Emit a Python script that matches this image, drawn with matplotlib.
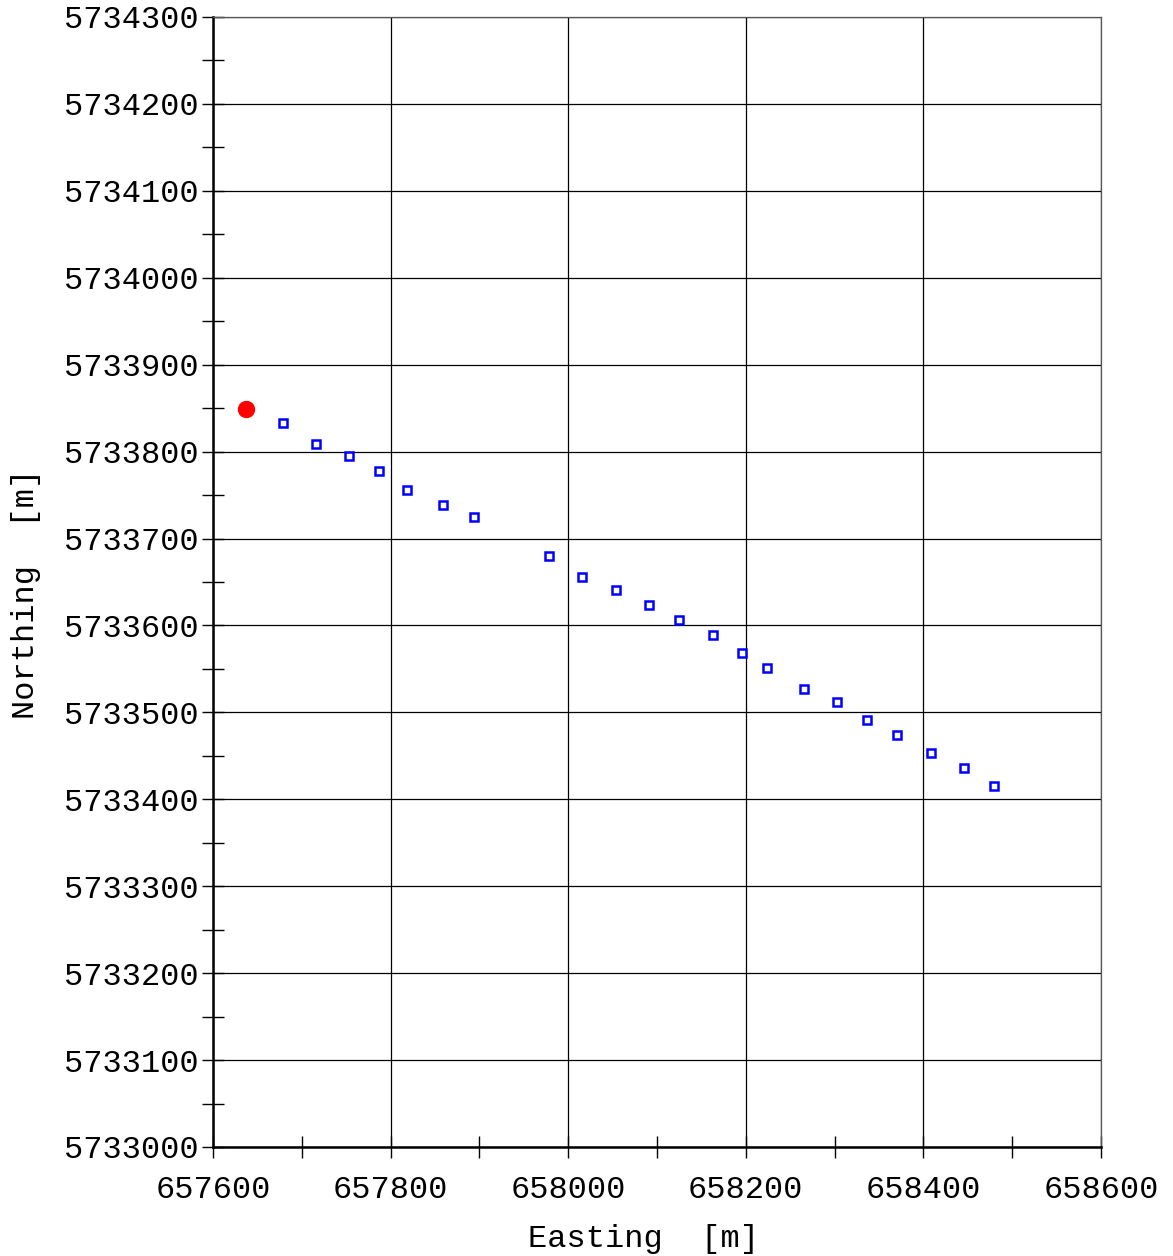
import numpy as np
import matplotlib.pyplot as plt
from matplotlib.ticker import MultipleLocator

# Startpunkt
start_e = [657637]
start_n = [5733849]

# Messpunkte
easting = [657679, 657716, 657753, 657787, 657818, 657859, 657894, 657978,
           658016, 658054, 658091, 658125, 658163, 658196, 658224, 658265,
           658303, 658336, 658370, 658409, 658446, 658480]
northing = [5733833, 5733809, 5733795, 5733778, 5733756, 5733739, 5733725,
            5733680, 5733656, 5733641, 5733624, 5733606, 5733589, 5733568,
            5733551, 5733527, 5733512, 5733491, 5733474, 5733453, 5733436,
            5733415]

plt.rcParams['font.family'] = ['Liberation Mono', 'DejaVu Sans Mono']
fs = 23

fig = plt.figure(figsize=(11.73, 12.56), dpi=100)
ax = fig.add_axes([213 / 1173, 1 - 1147 / 1256, 888 / 1173, 1130 / 1256])

ax.plot(easting, northing, linestyle='none', marker='s', markersize=6,
        markerfacecolor='white', markeredgecolor='#0000ff', markeredgewidth=1.8,
        zorder=3)
ax.plot(start_e, start_n, linestyle='none', marker='o', markersize=11.5,
        color='#ff0000', zorder=4)

ax.set_xlim(657600, 658600)
ax.set_ylim(5733000, 5734300)
ax.xaxis.set_major_locator(MultipleLocator(200))
ax.xaxis.set_minor_locator(MultipleLocator(100))
ax.yaxis.set_major_locator(MultipleLocator(100))
ax.yaxis.set_minor_locator(MultipleLocator(50))
ax.ticklabel_format(useOffset=False, style='plain')

ax.grid(True, which='major', color='black', linewidth=0.9)
ax.tick_params(which='both', direction='inout', length=16, width=1.0,
               labelsize=fs, colors='black', pad=4)
ax.tick_params(axis='x', pad=12)
ax.tick_params(axis='y', pad=2)

for side in ['left', 'bottom']:
    ax.spines[side].set_linewidth(1.8)
for side in ['top', 'right']:
    ax.spines[side].set_linewidth(0.9)
    ax.spines[side].set_color('#555555')

ax.set_xlabel("Easting  [m]", fontsize=fs, labelpad=14)
ax.set_ylabel("Northing  [m]", fontsize=fs, labelpad=17)
ax.xaxis.label.set_x(0.5 - 13 / 888)
ax.yaxis.label.set_y(0.5 - 12 / 1130)

fig.savefig("out.png", dpi=100)
